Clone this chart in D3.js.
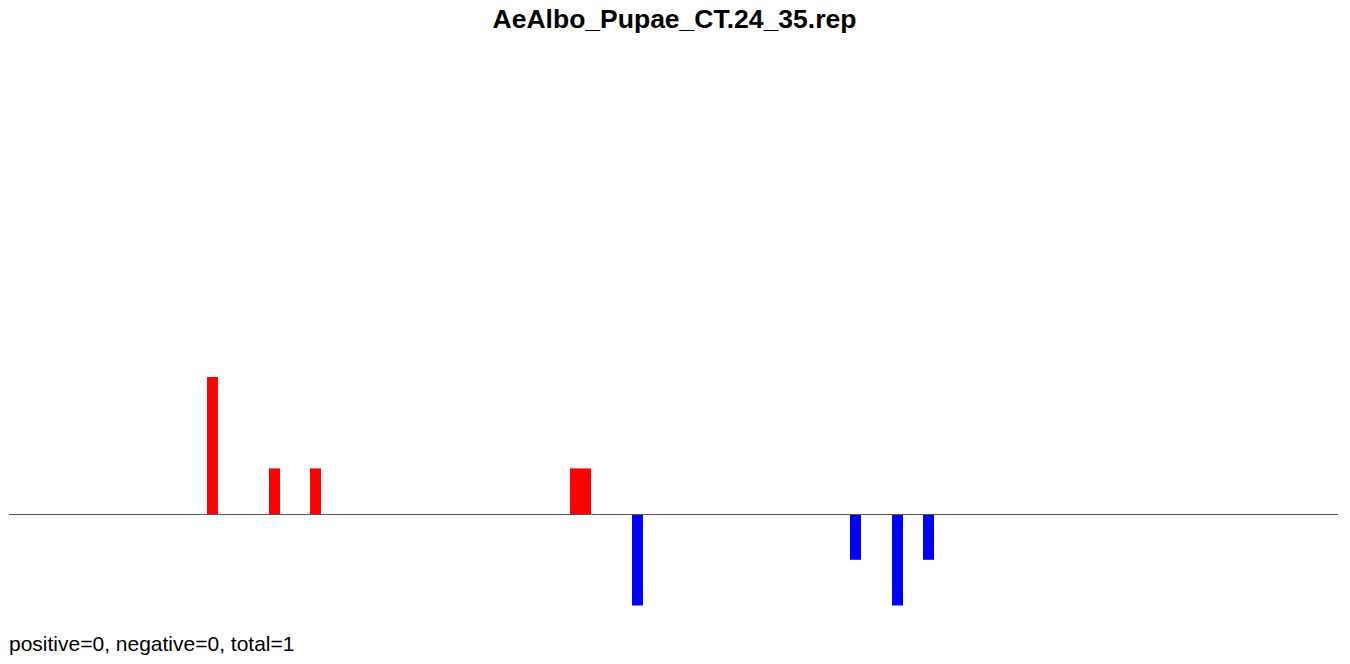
<!DOCTYPE html>
<html><head><meta charset="utf-8">
<script src="https://cdn.jsdelivr.net/npm/d3@7"></script>
<style>body{margin:0;background:#fff}svg{display:block}</style>
</head><body>
<svg id="chart" width="1350" height="664"></svg>
<script>
// Data: bar start/end positions (track units) and signed values
const barStarts = [198, 260, 301, 561, 623, 841, 883, 914];
const barEnds   = [209, 271, 312, 582, 634, 852, 894, 925];
const barValues = [3, 1, 1, 1, -2, -1, -2, -1];
const titleText = "AeAlbo_Pupae_CT.24_35.rep";
const footerText = "positive=0, negative=0, total=1";
const xDomain = [0, 1329];
const yDomain = [-2, 3];

const svg = d3.select("#chart");
const x = d3.scaleLinear().domain(xDomain).range([9, 1338]);
const y = d3.scaleLinear().domain(yDomain).range([605.5, 377]);

const bars = barValues.map((v, i) => ({start: barStarts[i], end: barEnds[i], value: v}));

svg.selectAll("rect.bar").data(bars).enter().append("rect")
  .attr("class", "bar")
  .attr("x", d => x(d.start))
  .attr("width", d => x(d.end) - x(d.start))
  .attr("y", d => Math.min(y(d.value), y(0)))
  .attr("height", d => Math.abs(y(d.value) - y(0)))
  .attr("fill", d => d.value >= 0 ? "#ff0000" : "#0000ff");

svg.append("line")
  .attr("x1", x(xDomain[0])).attr("x2", x(xDomain[1]))
  .attr("y1", Math.round(y(0)) + 0.5).attr("y2", Math.round(y(0)) + 0.5)
  .attr("stroke", "#555").attr("stroke-width", 1);

svg.append("text")
  .attr("x", 674.5).attr("y", 28)
  .attr("text-anchor", "middle")
  .attr("font-family", "Liberation Sans, Arial, sans-serif")
  .attr("font-weight", "bold").attr("font-size", 26.5)
  .text(titleText);

svg.append("text")
  .attr("x", 9).attr("y", 651)
  .attr("font-family", "Liberation Sans, Arial, sans-serif")
  .attr("font-size", 21)
  .text(footerText);
</script>
</body></html>
